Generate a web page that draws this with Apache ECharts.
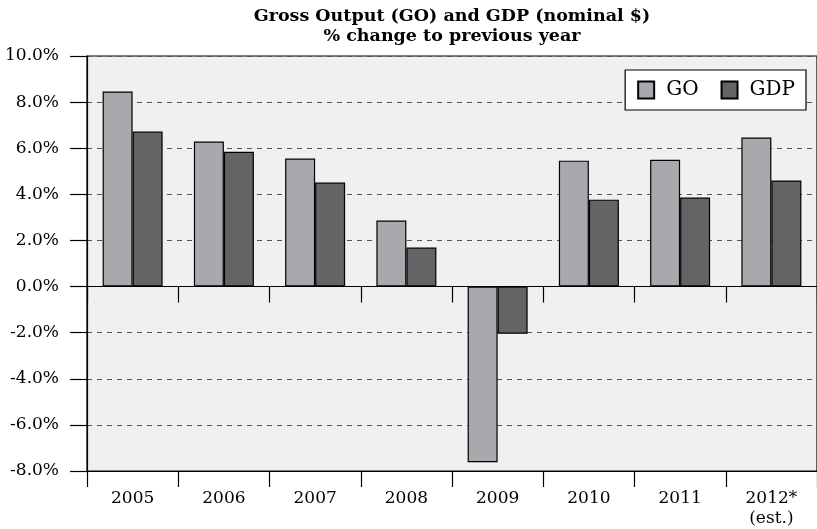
<!DOCTYPE html>
<html><head><meta charset="utf-8">
<script src="https://cdn.jsdelivr.net/npm/echarts@6/dist/echarts.min.js"></script>
<style>html,body{margin:0;padding:0;background:#fff}#c{width:817px;height:529px}</style>
</head><body><div id="c"></div>
<script>
const categories = ['2005','2006','2007','2008','2009','2010','2011','2012*\n(est.)'];
const goValues = [8.46, 6.29, 5.55, 2.86, -7.62, 5.46, 5.50, 6.46];
const gdpValues = [6.72, 5.85, 4.51, 1.69, -2.05, 3.77, 3.86, 4.60];
const yTicks = [-8, -6, -4, -2, 0, 2, 4, 6, 8, 10];
const titleLines = ['Gross Output (GO) and GDP (nominal $)', '% change to previous year'];

const FONT = 'DejaVu Serif';
const chart = echarts.init(document.getElementById('c'));
chart.setOption({
  animation: false,
  backgroundColor: '#ffffff',
  textStyle: { fontFamily: FONT },
  title: {
    text: titleLines.join('\n'),
    left: 452, top: 6, textAlign: 'center', padding: 0,
    textStyle: { fontFamily: FONT, fontWeight: 'bold', fontSize: 17.5, color: '#000', lineHeight: 20 }
  },
  legend: {
    data: ['GO', 'GDP'],
    right: 11, top: 70,
    backgroundColor: '#fff', borderColor: '#000', borderWidth: 1.2,
    padding: [10, 11, 10, 12],
    itemWidth: 16, itemHeight: 17, itemGap: 22,
    icon: 'rect',
    textStyle: { fontFamily: FONT, fontSize: 20, color: '#000', padding: [0, 0, 0, 7] }
  },
  grid: {
    left: 87, right: 0, top: 56, bottom: 58,
    show: true, backgroundColor: '#f0f0f0', borderColor: '#000', borderWidth: 1.2
  },
  xAxis: [
    {
      type: 'category', data: categories, position: 'bottom',
      axisLine: { onZero: true, lineStyle: { color: '#000', width: 1.2 } },
      axisTick: { show: true, length: 16, interval: 0, lineStyle: { color: '#000', width: 1.2 } },
      axisLabel: { show: false }, splitLine: { show: false }
    },
    {
      type: 'category', data: categories, position: 'bottom',
      axisLine: { onZero: false, lineStyle: { color: '#000', width: 1.2 } },
      axisTick: { show: true, length: 16, interval: 0, lineStyle: { color: '#000', width: 1.2 } },
      axisLabel: { show: true, interval: 0, margin: 18, fontFamily: FONT, fontSize: 17, color: '#000', lineHeight: 20 },
      splitLine: { show: false }
    }
  ],
  yAxis: {
    type: 'value', min: yTicks[0], max: yTicks[yTicks.length - 1], interval: 2,
    axisLine: { show: true, lineStyle: { color: '#000', width: 1.2 } },
    axisTick: { show: true, length: 17, lineStyle: { color: '#000', width: 1.2 } },
    axisLabel: { margin: 28, fontFamily: FONT, fontSize: 17, color: '#000', formatter: v => v.toFixed(1) + '%' },
    splitLine: { show: true, lineStyle: { color: '#555', type: [5, 5], width: 1 } }
  },
  series: [
    { name: 'GO', type: 'bar', data: goValues, xAxisIndex: 0, barWidth: 30, barGap: '0%',
      itemStyle: { color: '#a8a9ad', borderColor: '#000', borderWidth: 1.2 } },
    { name: 'GDP', type: 'bar', data: gdpValues, xAxisIndex: 0, barWidth: 30, barGap: '0%',
      itemStyle: { color: '#636466', borderColor: '#000', borderWidth: 1.2 } }
  ]
});
</script></body></html>
